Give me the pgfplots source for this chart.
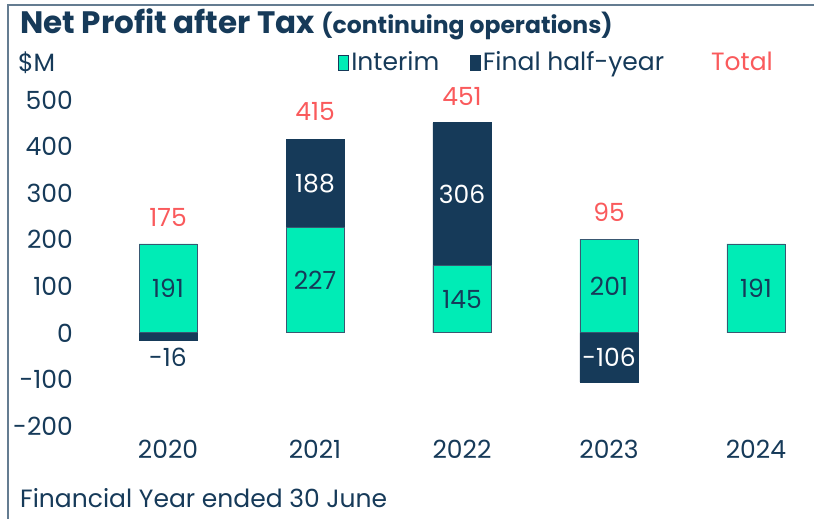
\documentclass[border=0pt]{standalone}
\usepackage{fontspec}
\setmainfont{Poppins}
\usepackage{pgfplots}
\pgfplotsset{compat=1.18}
\definecolor{mint}{RGB}{0,236,182}
\definecolor{navy}{RGB}{22,58,89}
\definecolor{totred}{RGB}{250,90,92}
\definecolor{framec}{RGB}{100,124,145}
\newcommand\lbl{\fontsize{25}{28}\selectfont}

\begin{document}
\begin{tikzpicture}
\useasboundingbox (0,0) rectangle (814pt,519pt);
\fill[white] (0,0) rectangle (814pt,519pt);
\draw[framec, line width=1.5pt] (8pt,0) -- (8pt,514pt) -- (814pt,514pt);

% title, unit, footer
\node[anchor=base west, inner sep=0pt, text=navy, font=\bfseries\fontsize{31}{34}\selectfont]
  at (20pt,485pt) {Net Profit after Tax {\fontsize{23.5}{26}\selectfont (continuing operations)}};
\node[anchor=base west, inner sep=0pt, text=navy, font=\lbl] at (18pt,447pt) {\$M};
\node[anchor=base west, inner sep=0pt, text=navy, font=\lbl] at (20pt,11pt) {Financial Year ended 30 June};

\begin{axis}[
  at={(95pt,93pt)}, anchor=south west,
  scale only axis, width=719pt, height=326pt,
  xmin=-0.497, xmax=4.395, ymin=-200, ymax=500,
  clip=false,
  axis line style={draw=none}, tick style={draw=none},
  ybar, bar width=58pt,
  xtick={0,1,2,3,4}, xticklabels={2020,2021,2022,2023,2024},
  ytick={-200,-100,0,100,200,300,400,500},
  yticklabels={-200,-100,0,100,200,300,400,500},
  ticklabel style={font=\lbl, text=navy, inner sep=0pt},
  yticklabel style={anchor=east, xshift=-22pt},
  xticklabel style={anchor=north, yshift=-10pt},
  legend columns=3,
  legend style={at={(0.338,1.1166)}, anchor=west, draw=none, fill=none,
    inner sep=0pt, font=\lbl, text=navy,
    nodes={inner sep=2.5pt},
    /tikz/every even column/.append style={column sep=28pt}},
  legend image code/.code={\draw[#1, line width=0.6pt] (0pt,-8pt) rectangle (10pt,7pt);},
]
% final half-year (dark) drawn first, up to cumulative top
\addplot[forget plot, fill=navy, draw=navy, line width=0.8pt, bar shift=0pt]
  coordinates {(0,-16) (1,415) (2,451) (3,-106)};
% interim
\addplot[forget plot, fill=mint, draw=navy!85, line width=0.8pt, bar shift=0pt]
  coordinates {(0,191) (1,227) (2,145) (3,201) (4,191)};

% labels inside interim
\addplot[forget plot, draw=none, fill=none, bar shift=0pt,
  nodes near coords, point meta=explicit symbolic,
  every node near coord/.append style={anchor=center, text=navy, font=\lbl, inner sep=0pt}]
  coordinates {(0,95.5) [191] (1,113.5) [227] (2,72.5) [145] (3,100.5) [201] (4,95.5) [191]};
% labels inside final half-year
\addplot[forget plot, draw=none, fill=none, bar shift=0pt,
  nodes near coords, point meta=explicit symbolic,
  every node near coord/.append style={anchor=center, text=white, font=\lbl, inner sep=0pt}]
  coordinates {(1,321) [188] (2,298) [306] (3,-53) [-106]};
\addplot[forget plot, draw=none, fill=none, bar shift=0pt,
  nodes near coords, point meta=explicit symbolic,
  every node near coord/.append style={anchor=center, text=navy, font=\lbl, inner sep=0pt}]
  coordinates {(0,-51.5) [-16]};
% totals
\addplot[forget plot, draw=none, fill=none, bar shift=0pt,
  nodes near coords, point meta=explicit symbolic,
  every node near coord/.append style={anchor=center, text=totred, font=\lbl, inner sep=0pt}]
  coordinates {(0,247) [175] (1,474.5) [415] (2,507) [451] (3,258) [95]};

\addlegendimage{fill=mint, draw=navy}
\addlegendentry{Interim}
\addlegendimage{fill=navy, draw=navy}
\addlegendentry{Final half-year}
\addlegendimage{empty legend}
\addlegendentry{\hspace{14pt}\textcolor{totred}{Total}}
\end{axis}
\end{tikzpicture}
\end{document}
